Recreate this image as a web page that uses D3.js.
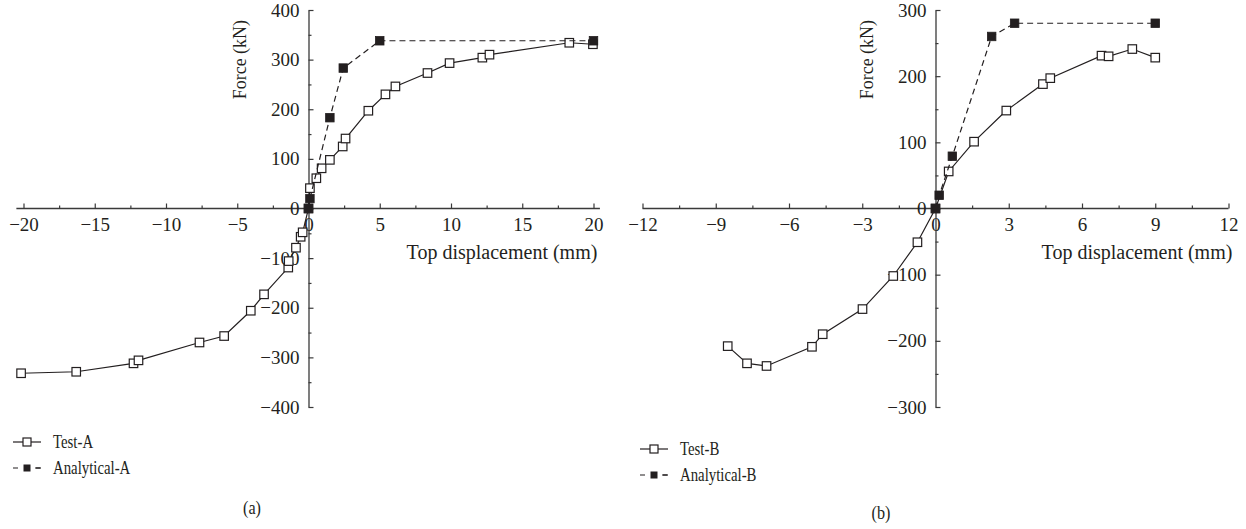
<!DOCTYPE html>
<html>
<head>
<meta charset="utf-8">
<script src="https://cdn.jsdelivr.net/npm/d3@7"></script>
<style>
  html, body { margin: 0; padding: 0; background: #fff; }
  svg { display: block; }
  text { font-family: "Liberation Serif", "DejaVu Serif", serif; fill: #231f20; }
</style>
</head>
<body>
<svg id="chart" width="1246" height="529"></svg>
<script>
// ---- Panel (a): specimen A ----
const testAx = [-20.17, -16.3, -12.28, -11.93, -7.65, -5.92, -4.05, -3.12, -1.42, -1.39, -0.88, -0.55, -0.41, 0, 0.1, 0.55, 0.92, 1.5, 2.4, 2.6, 4.2, 5.4, 6.1, 8.35, 9.9, 12.2, 12.7, 18.3, 19.96];
const testAy = [-332, -329, -312, -306, -270, -257, -206, -173, -119, -106, -79, -57, -48, 0, 41, 61, 81, 98, 125, 141, 197, 230, 246, 273, 293, 304, 310, 334, 331];
const analyticalAx = [0, 0.1, 1.5, 2.44, 5.0, 20];
const analyticalAy = [0, 20, 183, 283, 338, 338];
const xTicksA = [-20, -15, -10, -5, 0, 5, 10, 15, 20];
const yTicksA = [-400, -300, -200, -100, 0, 100, 200, 300, 400];

// ---- Panel (b): specimen B ----
const testBx = [-8.51, -7.72, -6.92, -5.06, -4.62, -2.99, -1.73, -0.74, 0, 0.54, 1.58, 2.9, 4.4, 4.7, 6.8, 7.09, 8.06, 9.0];
const testBy = [-208, -234, -238, -209, -190, -152, -102, -51, 0, 56, 101, 148, 188, 197, 231, 230, 241, 228];
const analyticalBx = [0, 0.15, 0.69, 2.3, 3.24, 9.0];
const analyticalBy = [0, 20, 79, 260, 280, 280];
const xTicksB = [-12, -9, -6, -3, 0, 3, 6, 9, 12];
const yTicksB = [-300, -200, -100, 0, 100, 200, 300];

const xLabel = "Top displacement (mm)";
const yLabel = "Force (kN)";

const svg = d3.select("#chart");
const ink = "#231f20";
const axisInk = "#3a3a3a";
const fmt = d => (d < 0 ? "\u2212" + Math.abs(d) : String(d));

function zip(xs, ys) { return xs.map((x, i) => [x, ys[i]]); }

function drawPanel(cfg) {
  const x = d3.scaleLinear().domain(cfg.xDomain).range(cfg.xRange);
  const y = d3.scaleLinear().domain(cfg.yDomain).range([407, 10]);
  const g = svg.append("g");
  const x0 = x(0), y0 = y(0);

  // x axis through y = 0, ticks pointing up
  const gx = g.append("g").attr("transform", `translate(0,${y0})`);
  gx.call(d3.axisBottom(x).tickValues(cfg.xTicks).tickFormat(fmt)
      .tickSizeInner(-5).tickSizeOuter(0).tickPadding(9));
  gx.append("g").call(d3.axisBottom(x).tickValues(cfg.xMinor).tickFormat("")
      .tickSizeInner(-3).tickSizeOuter(0))
    .select(".domain").remove();
  gx.select(".domain").attr("d", `M${x(cfg.xLine[0])},0H${x(cfg.xLine[1])}`);

  // y axis through x = 0, ticks pointing right
  const gy = g.append("g").attr("transform", `translate(${x0},0)`);
  gy.call(d3.axisLeft(y).tickValues(cfg.yTicks).tickFormat(fmt)
      .tickSizeInner(-5).tickSizeOuter(0).tickPadding(9));
  gy.append("g").call(d3.axisLeft(y).tickValues(cfg.yMinor).tickFormat("")
      .tickSizeInner(-3).tickSizeOuter(0))
    .select(".domain").remove();

  g.selectAll(".domain").attr("stroke", axisInk).attr("stroke-width", 1.3);
  g.selectAll(".tick line").attr("stroke", axisInk).attr("stroke-width", 1.2);
  g.selectAll(".tick text").attr("font-size", 19).attr("fill", ink)
    .attr("font-family", "Liberation Serif, DejaVu Serif, serif");

  // axis titles
  g.append("text").attr("x", cfg.xTitleX).attr("y", y0 + 50)
    .attr("text-anchor", "middle").attr("font-size", 20).text(xLabel);
  g.append("text")
    .attr("transform", `translate(${x0 - 63},${y(cfg.yTitleAt)}) rotate(-90)`)
    .attr("text-anchor", "middle").attr("font-size", 18).text(yLabel);

  const line = d3.line().x(d => x(d[0])).y(d => y(d[1]));
  const test = zip(cfg.testX, cfg.testY);
  const ana = zip(cfg.anaX, cfg.anaY);
  const s = 8.5;

  g.append("path").datum(test).attr("d", line).attr("fill", "none")
    .attr("stroke", ink).attr("stroke-width", 1.2);
  g.append("g").selectAll("rect").data(test).join("rect")
    .attr("x", d => x(d[0]) - s / 2).attr("y", d => y(d[1]) - s / 2)
    .attr("width", s).attr("height", s)
    .attr("fill", "#fff").attr("stroke", ink).attr("stroke-width", 1.2);

  g.append("path").datum(ana).attr("d", line).attr("fill", "none")
    .attr("stroke", ink).attr("stroke-width", 1.2).attr("stroke-dasharray", "6,4");
  g.append("g").selectAll("rect").data(ana).join("rect")
    .attr("x", d => x(d[0]) - s / 2).attr("y", d => y(d[1]) - s / 2)
    .attr("width", s).attr("height", s)
    .attr("fill", ink).attr("stroke", ink).attr("stroke-width", 0.8);

  // legend
  const lg = g.append("g").attr("transform", `translate(${cfg.legend[0]},${cfg.legend[1]})`);
  lg.append("line").attr("x1", 0).attr("x2", 28).attr("y1", 0).attr("y2", 0)
    .attr("stroke", ink).attr("stroke-width", 1.2);
  lg.append("rect").attr("x", 14 - 4).attr("y", -4).attr("width", 8).attr("height", 8)
    .attr("fill", "#fff").attr("stroke", ink).attr("stroke-width", 1.2);
  lg.append("text").attr("transform", "translate(40,0) scale(0.78,1)").attr("dy", "0.32em")
    .attr("font-size", 19).text(cfg.names[0]);
  lg.append("line").attr("x1", 0).attr("x2", 28).attr("y1", 26).attr("y2", 26)
    .attr("stroke", ink).attr("stroke-width", 1.2).attr("stroke-dasharray", "5,17");
  lg.append("line").attr("x1", 23).attr("x2", 28).attr("y1", 26).attr("y2", 26)
    .attr("stroke", ink).attr("stroke-width", 1.2);
  lg.append("rect").attr("x", 14 - 3.5).attr("y", 26 - 3.5).attr("width", 7).attr("height", 7)
    .attr("fill", ink);
  lg.append("text").attr("transform", "translate(40,26) scale(0.78,1)").attr("dy", "0.32em")
    .attr("font-size", 19).text(cfg.names[1]);

  // caption
  g.append("text").attr("transform", `translate(${cfg.caption[0]},${cfg.caption[1]}) scale(0.85,1)`)
    .attr("dy", "0.32em").attr("text-anchor", "middle").attr("font-size", 19).text(cfg.caption[2]);
}

drawPanel({
  xDomain: [-20, 20], xRange: [23.5, 593.5], yDomain: [-400, 400],
  xLine: [-20.5, 20.45],
  xTicks: xTicksA, xMinor: d3.range(-17.5, 20, 5),
  yTicks: yTicksA, yMinor: d3.range(-350, 400, 100),
  xTitleX: 502, yTitleAt: 300,
  testX: testAx, testY: testAy, anaX: analyticalAx, anaY: analyticalAy,
  legend: [13, 442], names: ["Test-A", "Analytical-A"], caption: [252, 508, "(a)"]
});

drawPanel({
  xDomain: [-12, 12], xRange: [642.5, 1228.5], yDomain: [-300, 300],
  xLine: [-12, 12],
  xTicks: xTicksB, xMinor: d3.range(-10.5, 12, 3),
  yTicks: yTicksB, yMinor: d3.range(-250, 300, 100),
  xTitleX: 1137, yTitleAt: 225,
  testX: testBx, testY: testBy, anaX: analyticalBx, anaY: analyticalBy,
  legend: [640, 449], names: ["Test-B", "Analytical-B"], caption: [881, 513, "(b)"]
});
</script>
</body>
</html>
